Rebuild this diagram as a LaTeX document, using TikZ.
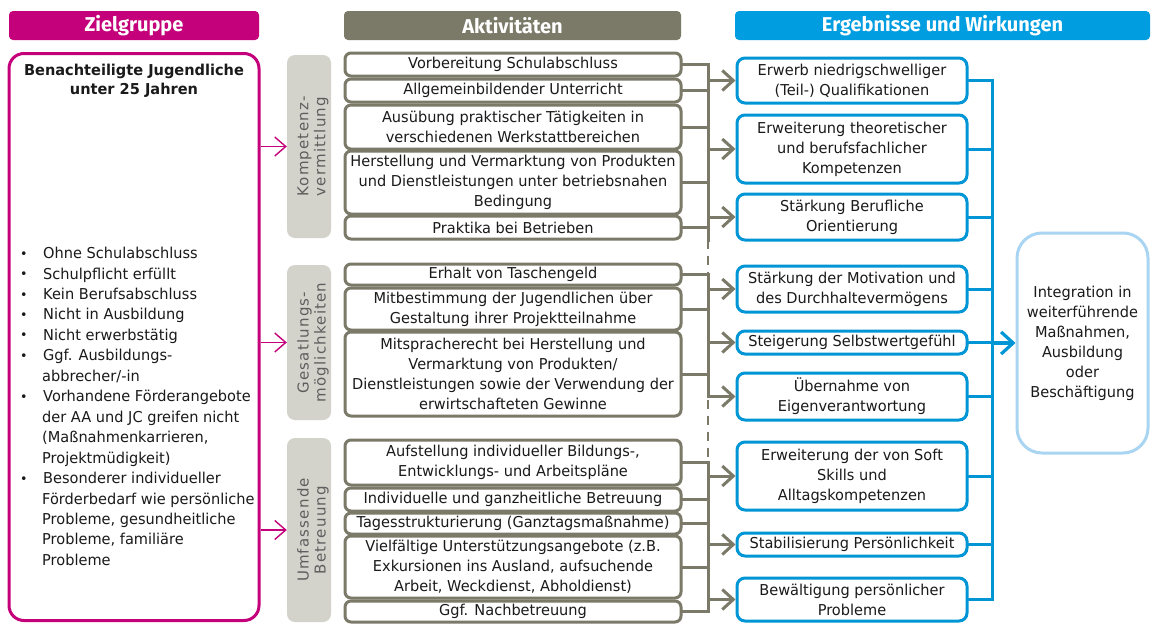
\documentclass[tikz,border=0pt]{standalone}
\usepackage{fontspec}
\setmainfont{DejaVu Sans}[FakeStretch=0.97]
\newfontfamily\headfont{Fira Sans}
\newfontfamily\catfont{DejaVu Sans}[LetterSpace=8]
\usetikzlibrary{arrows.meta}
\definecolor{mag}{HTML}{C4007A}
\definecolor{oliv}{HTML}{7B7968}
\definecolor{catgrey}{HTML}{D3D2CB}
\definecolor{cattext}{HTML}{5E5E5E}
\definecolor{blu}{HTML}{009EE0}
\definecolor{rblu}{HTML}{0096D6}
\definecolor{lblu}{HTML}{A9D5F2}
\definecolor{txt}{HTML}{1A1A1A}
\newcommand\bodyfont{\fontsize{15}{20}\selectfont}
\newcommand\bul{\makebox[23pt][l]{\raisebox{0.5pt}{\fontsize{13}{13}\selectfont •}}}
\newcommand\ind{\hspace*{22pt}}
\tikzset{
  hdr/.style={rounded corners=4pt, inner sep=0pt, text=white, font=\headfont\bfseries\fontsize{20}{22}\selectfont},
  abox/.style={draw=oliv, line width=3pt, rounded corners=6pt, fill=white, inner sep=0pt, align=center, text=txt, font=\bodyfont, minimum width=336pt},
  rbox/.style={draw=rblu, line width=3pt, rounded corners=8pt, fill=white, inner sep=0pt, align=center, text=txt, font=\bodyfont, minimum width=230pt},
  catbox/.style={fill=catgrey, rounded corners=8pt, inner sep=0pt, minimum width=44pt},
  cattxt/.style={rotate=90, align=center, text=cattext, font=\catfont\fontsize{15}{17}\selectfont, inner sep=0pt},
  gline/.style={draw=oliv, line width=3pt, line cap=rect},
  garrow/.style={draw=oliv, line width=3pt, -{Straight Barb[length=11pt,width=20pt]}},
  gdash/.style={draw=oliv, line width=2.6pt, dash pattern=on 9pt off 7pt},
  bline/.style={draw=rblu, line width=3pt, line cap=rect},
  barrow/.style={draw=rblu, line width=3.2pt, -{Straight Barb[length=12pt,width=22pt]}},
  marrow/.style={draw=mag, line width=1.4pt, -{Straight Barb[length=11pt,width=19pt]}}
}
\begin{document}
\begin{tikzpicture}[x=1pt,y=-1pt]
\useasboundingbox[fill=white] (0,0) rectangle (1151,624);
% headers
\node[hdr, fill=mag, minimum width=250pt, minimum height=29pt] (h1) at (134,25.5) {Zielgruppe};
\node[hdr, fill=oliv, minimum width=337pt, minimum height=29pt] (h2) at (512.5,25.5) {Aktivitäten};
\node[hdr, fill=blu, minimum width=415pt, minimum height=29pt] (h3) at (942.5,25.5) {Ergebnisse und Wirkungen};
% target group
\node[draw=mag, line width=3pt, rounded corners=15pt, minimum width=250pt, minimum height=567pt, inner sep=0pt] (zg) at (134,337) {};
\node[font=\bfseries\fontsize{15}{19}\selectfont, align=center, text=txt, inner sep=0pt] (zgt) at (134,81) {Benachteiligte Jugendliche\\unter 25 Jahren};
\node[anchor=north west, align=left, font=\fontsize{15}{20.45}\selectfont, text=txt, inner sep=0pt] (zgl) at (20,247) {%
\bul Ohne Schulabschluss\\
\bul Schulpflicht erfüllt\\
\bul Kein Berufsabschluss\\
\bul Nicht in Ausbildung\\
\bul Nicht erwerbstätig\\
\bul Ggf. Ausbildungs-\\
\ind abbrecher/-in\\
\bul Vorhandene Förderangebote\\
\ind der AA und JC greifen nicht\\
\ind (Maßnahmenkarrieren,\\
\ind Projektmüdigkeit)\\
\bul Besonderer individueller\\
\ind Förderbedarf wie persönliche\\
\ind Probleme, gesundheitliche\\
\ind Probleme, familiäre\\
\ind Probleme};
% categories
\node[catbox, minimum height=183pt] (k) at (309,146.5) {};
\node[cattxt] (kt) at (313,146.5) {Kompetenz-\\vermittlung};
\node[catbox, minimum height=155pt] (g) at (309,342.5) {};
\node[cattxt] (gt) at (313,342.5) {Gesatlungs-\\möglichkeiten};
\node[catbox, minimum height=184pt] (u) at (309,530) {};
\node[cattxt] (ut) at (313,530) {Umfassende\\Betreuung};
% activities
\node[abox, minimum height=23pt] (a1) at (513,64.5) {Vorbereitung Schulabschluss};
\node[abox, minimum height=23pt] (a2) at (513,90.5) {Allgemeinbildender Unterricht};
\node[abox, minimum height=44pt] (a3) at (513,127) {Ausübung praktischer Tätigkeiten in\\verschiedenen Werkstattbereichen};
\node[abox, minimum height=63pt] (a4) at (513,182.5) {Herstellung und Vermarktung von Produkten\\und Dienstleistungen unter betriebsnahen\\Bedingung};
\node[abox, minimum height=23pt] (a5) at (513,227.5) {Praktika bei Betrieben};
\node[abox, minimum height=21pt] (b1) at (513,274.5) {Erhalt von Taschengeld};
\node[abox, minimum height=42pt] (b2) at (513,309) {Mitbestimmung der Jugendlichen über\\Gestaltung ihrer Projektteilnahme};
\node[abox, minimum height=84pt] (b3) at (513,374) {Mitspracherecht bei Herstellung und\\Vermarktung von Produkten/\\Dienstleistungen sowie der Verwendung der\\erwirtschafteten Gewinne};
\node[abox, minimum height=45pt] (c1) at (513,462.5) {Aufstellung individueller Bildungs-,\\Entwicklungs- und Arbeitspläne};
\node[abox, minimum height=23pt] (c2) at (513,499.5) {Individuelle und ganzheitliche Betreuung};
\node[abox, minimum height=21pt] (c3) at (513,523.5) {Tagesstrukturierung (Ganztagsmaßnahme)};
\node[abox, minimum height=62pt] (c4) at (513,567) {Vielfältige Unterstützungsangebote (z.B.\\Exkursionen ins Ausland, aufsuchende\\Arbeit, Weckdienst, Abholdienst)};
\node[abox, minimum height=21pt] (c5) at (513,611.5) {Ggf. Nachbetreuung};
% results
\node[rbox, minimum height=45pt] (r1) at (852,80.5) {Erwerb niedrigschwelliger\\(Teil-) Qualifikationen};
\node[rbox, minimum height=68pt] (r2) at (852,149) {Erweiterung theoretischer\\und berufsfachlicher\\Kompetenzen};
\node[rbox, minimum height=46pt] (r3) at (852,217) {Stärkung Berufliche\\Orientierung};
\node[rbox, minimum height=46pt] (r4) at (852,289) {Stärkung der Motivation und\\des Durchhaltevermögens};
\node[rbox, minimum height=23pt] (r5) at (852,342.5) {Steigerung Selbstwertgefühl};
\node[rbox, minimum height=47pt] (r6) at (852,396.5) {Übernahme von\\Eigenverantwortung};
\node[rbox, minimum height=68pt] (r7) at (852,476) {Erweiterung der von Soft\\Skills und\\Alltagskompetenzen};
\node[rbox, minimum height=23pt] (r8) at (852,544.5) {Stabilisierung Persönlichkeit};
\node[rbox, minimum height=43pt] (r9) at (852,599.5) {Bewältigung persönlicher\\Probleme};
% integration
\node[draw=lblu, line width=3pt, rounded corners=25pt, minimum width=131pt, minimum height=220pt, inner sep=0pt, align=center, text=txt, font=\bodyfont] (integ) at (1082.5,343) {Integration in\\weiterführende\\Maßnahmen,\\Ausbildung\\oder\\Beschäftigung};
% magenta arrows
\draw[marrow] (k.west -| zg.east) -- (k.west);
\draw[marrow] (g.west -| zg.east) -- (g.west);
\draw[marrow] (u.west -| zg.east) -- (u.west);
% grey connectors
\coordinate (gb) at (708,0);
\coordinate (gend) at (708,240);
\foreach \n in {a1,a2,a3,a4,a5,b1,b2,b3,c1,c2,c3,c4,c5}
  \draw[gline] (\n.east) -- (\n.east -| gb);
\draw[gline] (a1.east -| gb) -- (gend);
\draw[gline] (b1.east -| gb) -- (r6.west -| gb);
\draw[gline] (c1.east -| gb) -- (c5.east -| gb);
\draw[gdash] (gend) -- (c1.east -| gb);
\foreach \n in {r1,r2,r3,r4,r5,r6,r7,r8,r9}
  \draw[garrow] (\n.west -| gb) -- (\n.west);
% blue connectors
\coordinate (bb) at (992,0);
\foreach \n in {r1,r2,r3,r4,r5,r6,r7,r8,r9}
  \draw[bline] (\n.east) -- (\n.east -| bb);
\draw[bline] (r1.east -| bb) -- (r9.east -| bb);
\draw[barrow] (integ.west -| bb) -- (integ.west);
\end{tikzpicture}
\end{document}
